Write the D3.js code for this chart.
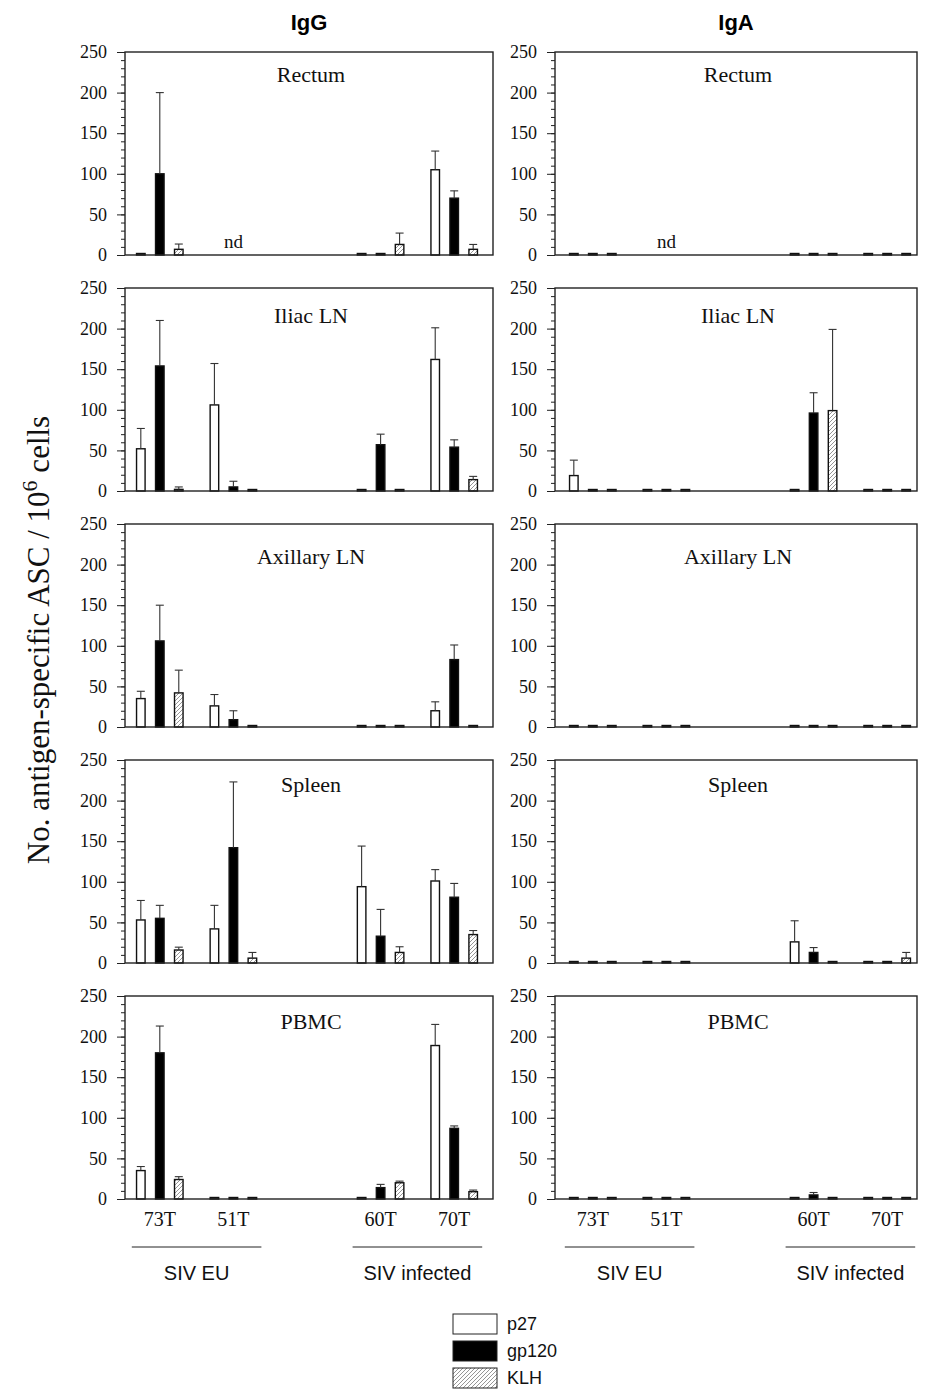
<!DOCTYPE html>
<html>
<head>
<meta charset="utf-8">
<script src="https://cdn.jsdelivr.net/npm/d3@7"></script>
<style>
  body { margin: 0; background: #fff; }
  .serif { font-family: "Liberation Serif", "Times New Roman", serif; }
  .sans { font-family: "Liberation Sans", Arial, sans-serif; }
</style>
</head>
<body>
<svg id="chart" width="927" height="1395"></svg>
<script>
const isotypes = ["IgG", "IgA"];
const tissues = ["Rectum", "Iliac LN", "Axillary LN", "Spleen", "PBMC"];
const animals = ["73T", "51T", "60T", "70T"];
const antigens = ["p27", "gp120", "KLH"];
const groupLabels = ["SIV EU", "SIV infected"];
const yTicks = [0, 50, 100, 150, 200, 250];

// mean ASC per animal, order p27 / gp120 / KLH ; null = nd
const iggRectum = [[0, 100, 7], [null, null, null], [0, 0, 13], [105, 70, 7]];
const iggRectumErr = [[0, 100, 6.5], [null, null, null], [0, 0, 14], [23, 9, 6]];
const igaRectum = [[0, 0, 0], [null, null, null], [0, 0, 0], [0, 0, 0]];
const igaRectumErr = [[0, 0, 0], [null, null, null], [0, 0, 0], [0, 0, 0]];

const iggIliac = [[52, 154, 2], [106, 5, 0], [0, 57, 0], [162, 54, 14]];
const iggIliacErr = [[25, 56, 3], [51, 7, 0], [0, 13, 0], [39, 9, 4]];
const igaIliac = [[19, 0, 0], [0, 0, 0], [0, 96, 99], [0, 0, 0]];
const igaIliacErr = [[19, 0, 0], [0, 0, 0], [0, 25, 100], [0, 0, 0]];

const iggAxillary = [[35, 106, 42], [26, 9, 0], [0, 0, 0], [20, 83, 0]];
const iggAxillaryErr = [[9, 44, 28], [14, 11, 0], [0, 0, 0], [11, 18, 0]];
const igaAxillary = [[0, 0, 0], [0, 0, 0], [0, 0, 0], [0, 0, 0]];
const igaAxillaryErr = [[0, 0, 0], [0, 0, 0], [0, 0, 0], [0, 0, 0]];

const iggSpleen = [[53, 55, 16], [42, 142, 6], [94, 33, 13], [101, 81, 35]];
const iggSpleenErr = [[24, 16, 3.5], [29, 81, 7], [50, 33, 7], [14, 17, 5]];
const igaSpleen = [[0, 0, 0], [0, 0, 0], [26, 13, 0], [0, 0, 6]];
const igaSpleenErr = [[0, 0, 0], [0, 0, 0], [26, 6, 0], [0, 0, 7]];

const iggPbmc = [[35, 180, 24], [0, 0, 0], [0, 14, 20], [189, 87, 9]];
const iggPbmcErr = [[5, 33, 3.5], [0, 0, 0], [0, 4, 2], [26, 3, 2]];
const igaPbmc = [[0, 0, 0], [0, 0, 0], [0, 5, 0], [0, 0, 0]];
const igaPbmcErr = [[0, 0, 0], [0, 0, 0], [0, 3, 0], [0, 0, 0]];

const means = {
  IgG: [iggRectum, iggIliac, iggAxillary, iggSpleen, iggPbmc],
  IgA: [igaRectum, igaIliac, igaAxillary, igaSpleen, igaPbmc]
};
const errs = {
  IgG: [iggRectumErr, iggIliacErr, iggAxillaryErr, iggSpleenErr, iggPbmcErr],
  IgA: [igaRectumErr, igaIliacErr, igaAxillaryErr, igaSpleenErr, igaPbmcErr]
};

// layout
const cols = [
  { x0: 125, x1: 493, b0: 123, b1: 491 },
  { x0: 555, x1: 917, b0: 556, b1: 924 }
];
const rowTop = 52, rowStep = 236, panelH = 203;
const titleDy = [30, 35, 40, 32, 33];
const fills = { p27: "#fff", gp120: "#000", KLH: "url(#hatch)" };
const serif = '"Liberation Serif", "Times New Roman", serif';

const svg = d3.select("#chart");

// hatch for KLH
svg.append("defs").append("pattern")
  .attr("id", "hatch")
  .attr("patternUnits", "userSpaceOnUse")
  .attr("width", 4).attr("height", 4)
  .append("path")
  .attr("d", "M-1,1 l2,-2 M0,4 l4,-4 M3,5 l2,-2")
  .attr("stroke", "#8a8a8a")
  .attr("stroke-width", 0.9);

const y = d3.scaleLinear().domain([0, 250]).range([panelH, 0]);
const slots = [animals[0], animals[1], "gap", animals[2], animals[3]];

isotypes.forEach((iso, ci) => {
  const c = cols[ci];
  const x = d3.scaleBand().domain(slots).range([c.b0, c.b1]);
  const sub = d3.scaleBand().domain(antigens).range([-28, 28]).paddingInner(0.55).paddingOuter(0.25);
  const mid = (c.x0 + c.x1) / 2;

  svg.append("text")
    .attr("class", "sans")
    .attr("x", mid).attr("y", 30)
    .attr("text-anchor", "middle")
    .style("font-size", "22px").style("font-weight", "bold")
    .text(iso);

  tissues.forEach((tis, ri) => {
    const g = svg.append("g").attr("transform", `translate(0,${rowTop + ri * rowStep})`);
    const m = means[iso][ri], e = errs[iso][ri];

    // minor + major ticks
    g.append("g")
      .attr("transform", `translate(${c.x0},0)`)
      .call(d3.axisLeft(y).tickValues(d3.range(0, 251, 10)).tickSize(4).tickFormat(""))
      .call(a => a.select(".domain").remove())
      .selectAll("line").attr("stroke", "#222");
    const ax = g.append("g")
      .attr("transform", `translate(${c.x0},0)`)
      .call(d3.axisLeft(y).tickValues(yTicks).tickSize(8).tickPadding(10))
      .call(a => a.select(".domain").remove());
    ax.selectAll("line").attr("stroke", "#222");
    ax.selectAll("text")
      .style("font-family", serif)
      .style("font-size", "18px")
      .attr("fill", "#111");

    // bars
    const rows = [];
    animals.forEach((an, i) => antigens.forEach((ag, j) => {
      if (m[i][j] !== null) rows.push({ an, ag, v: m[i][j], err: e[i][j] });
    }));

    g.selectAll("rect.bar").data(rows).enter().append("rect")
      .attr("class", "bar")
      .attr("x", d => x(d.an) + x.bandwidth() / 2 + sub(d.ag))
      .attr("y", d => Math.min(y(d.v), panelH - 1.5))
      .attr("width", sub.bandwidth())
      .attr("height", d => Math.max(panelH - y(d.v), 1.5))
      .attr("fill", d => fills[d.ag])
      .attr("stroke", "#111")
      .attr("stroke-width", 1.4);

    const eb = g.selectAll("g.err").data(rows.filter(d => d.err > 0)).enter().append("g")
      .attr("class", "err")
      .attr("stroke", "#333").attr("stroke-width", 1.1);
    const cx = d => x(d.an) + x.bandwidth() / 2 + sub(d.ag) + sub.bandwidth() / 2;
    eb.append("line")
      .attr("x1", cx).attr("x2", cx)
      .attr("y1", d => y(d.v)).attr("y2", d => y(d.v + d.err));
    eb.append("line")
      .attr("x1", d => cx(d) - 4).attr("x2", d => cx(d) + 4)
      .attr("y1", d => y(d.v + d.err)).attr("y2", d => y(d.v + d.err));

    // nd marks
    animals.forEach((an, i) => {
      if (m[i].every(v => v === null)) {
        g.append("text").attr("class", "serif")
          .attr("x", x(an) + x.bandwidth() / 2).attr("y", panelH - 7)
          .attr("text-anchor", "middle")
          .style("font-size", "19px").attr("fill", "#111")
          .text("nd");
      }
    });

    // frame
    g.append("rect")
      .attr("x", c.x0).attr("y", 0)
      .attr("width", c.x1 - c.x0).attr("height", panelH)
      .attr("fill", "none").attr("stroke", "#222").attr("stroke-width", 1.4);

    g.append("text").attr("class", "serif")
      .attr("x", mid + 2).attr("y", titleDy[ri])
      .attr("text-anchor", "middle")
      .style("font-size", "22px").attr("fill", "#111")
      .text(tis);
  });

  // animal labels and group lines under last row
  const bottom = rowTop + (tissues.length - 1) * rowStep + panelH;
  animals.forEach(an => {
    svg.append("text").attr("class", "serif")
      .attr("x", x(an) + x.bandwidth() / 2).attr("y", bottom + 27)
      .attr("text-anchor", "middle")
      .style("font-size", "20px").attr("fill", "#111")
      .text(an);
  });
  groupLabels.forEach((gl, k) => {
    const a = x(animals[k * 2]) + x.bandwidth() / 2 - 28;
    const b = x(animals[k * 2 + 1]) + x.bandwidth() / 2 + 28;
    svg.append("line")
      .attr("x1", a).attr("x2", b)
      .attr("y1", bottom + 48).attr("y2", bottom + 48)
      .attr("stroke", "#222").attr("stroke-width", 1);
    svg.append("text").attr("class", "sans")
      .attr("x", (a + b) / 2).attr("y", bottom + 81)
      .attr("text-anchor", "middle")
      .style("font-size", "20px").attr("fill", "#111")
      .text(gl);
  });
});

// y-axis title
const yt = svg.append("text").attr("class", "serif")
  .attr("transform", "translate(49,640) rotate(-90)")
  .attr("text-anchor", "middle")
  .style("font-size", "31px").attr("fill", "#111");
yt.append("tspan").text("No. antigen-specific ASC / 10");
yt.append("tspan").attr("dy", -12).style("font-size", "22px").text("6");
yt.append("tspan").attr("dy", 12).text(" cells");

// legend
const leg = svg.append("g").attr("transform", "translate(453,1314)");
antigens.forEach((ag, i) => {
  leg.append("rect")
    .attr("x", 0).attr("y", i * 27)
    .attr("width", 44).attr("height", 20)
    .attr("fill", fills[ag]).attr("stroke", "#222").attr("stroke-width", 1);
  leg.append("text").attr("class", "sans")
    .attr("x", 54).attr("y", i * 27 + 16)
    .style("font-size", "18px").attr("fill", "#111")
    .text(ag);
});
</script>
</body>
</html>
